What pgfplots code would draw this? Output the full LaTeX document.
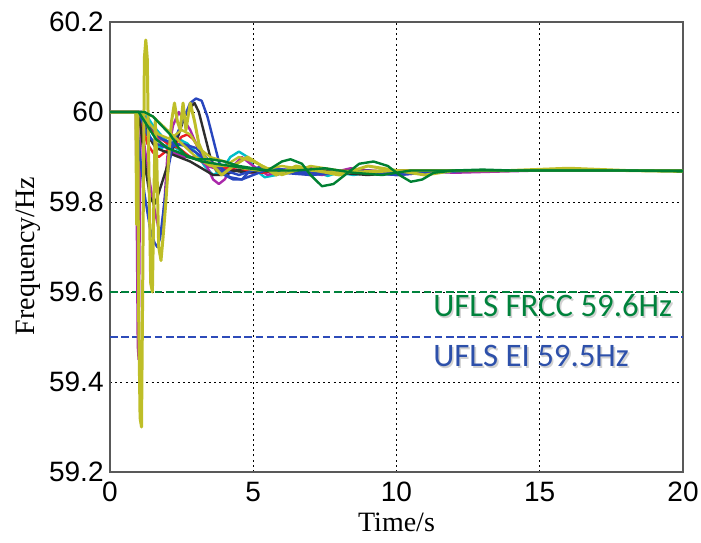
\documentclass[border=0pt]{standalone}
\usepackage{pgfplots}
\pgfplotsset{compat=1.18}
\usepackage{fontspec}
\setmainfont{Liberation Serif}
\setsansfont{Liberation Sans}
\newfontfamily\calib{Carlito}
\usetikzlibrary{calc}

\definecolor{mb}{RGB}{40,70,190}
\definecolor{mg}{RGB}{0,128,50}
\definecolor{mr}{RGB}{235,30,35}
\definecolor{mc}{RGB}{0,190,200}
\definecolor{mm}{RGB}{170,40,170}
\definecolor{my}{RGB}{190,190,40}
\definecolor{mk}{RGB}{45,45,45}
\definecolor{lgreen}{RGB}{0,130,60}
\definecolor{lblue}{RGB}{45,75,185}
\definecolor{tblue}{RGB}{45,80,170}

\begin{document}
\begin{tikzpicture}
\begin{axis}[
    name=ax,
    scale only axis,
    width=286.5pt, height=225pt,
    xmin=0, xmax=20, ymin=59.2, ymax=60.2,
    xtick={0,5,10,15,20},
    ytick={59.2,59.4,59.6,59.8,60,60.2},
    yticklabels={59.2,59.4,59.6,59.8,60,60.2},
    /pgf/number format/assume math mode=true,
    ticklabel style={font=\sffamily\fontsize{14}{16}\selectfont},
    yticklabel style={inner sep=3pt},
    xticklabel style={inner sep=5pt},
    major tick length=0pt,
    axis line style={black!65, line width=0.6pt},
    grid=major,
    major grid style={black, line width=0.4pt, dash pattern=on 1pt off 1.6pt},
    xlabel={Time/s},
    ylabel={Frequency/Hz},
    xlabel style={font=\fontsize{14}{16}\selectfont, at={(rel axis cs:0.5,0)}, anchor=center, yshift=-25pt},
    ylabel style={font=\fontsize{14}{16}\selectfont, at={(rel axis cs:0,0.48)}, anchor=center, yshift=41pt},
    every axis plot/.append style={line width=1.2pt, line join=round},
]
% UFLS thresholds
\addplot[lgreen, line width=1.2pt, dash pattern=on 3.8pt off 1.8pt] coordinates {(0,59.6) (20,59.6)};
\addplot[lblue, line width=1.2pt, dash pattern=on 3.8pt off 1.8pt] coordinates {(0,59.5) (20,59.5)};

% cyan
\addplot[mc] coordinates {(0,60) (1.1,60) (1.3,59.96) (1.5,59.93) (1.8,59.92) (2.1,59.93) (2.4,59.94) (2.7,59.93) (3.0,59.91) (3.3,59.88) (3.6,59.86) (3.9,59.87) (4.2,59.9) (4.5,59.912) (4.8,59.9) (5.1,59.87) (5.4,59.855) (5.8,59.86) (6.3,59.875) (7,59.87) (7.6,59.858) (8.2,59.87) (9,59.865) (10,59.87) (12,59.87) (20,59.87)};
\addplot[mc] coordinates {(0,60) (1.2,60) (1.5,59.97) (1.9,59.94) (2.3,59.92) (2.8,59.9) (3.3,59.89) (3.8,59.88) (4.3,59.87) (4.8,59.875) (5.5,59.87) (6.5,59.865) (7.5,59.87) (8.5,59.86) (9.5,59.87) (11,59.865) (13,59.87) (20,59.87)};
% magenta
\addplot[mm] coordinates {(0,60) (0.9,60) (0.93,59.8) (0.97,59.48) (1.0,59.45) (1.03,59.7) (1.07,59.98) (1.15,59.95) (1.3,59.88) (1.5,59.8) (1.7,59.74) (1.8,59.73) (1.9,59.8) (2.0,59.9) (2.2,59.97) (2.4,60.0) (2.6,59.98) (2.8,59.96) (3.0,59.93) (3.3,59.89) (3.6,59.85) (3.8,59.84) (4.0,59.85) (4.3,59.88) (4.6,59.9) (5.0,59.88) (5.5,59.86) (6,59.87) (7,59.875) (8,59.865) (9,59.87) (10,59.86) (11,59.865) (12,59.87) (14,59.87) (20,59.87)};
\addplot[mm] coordinates {(0,60) (1.1,60) (1.4,59.96) (1.8,59.93) (2.2,59.91) (2.6,59.9) (3.0,59.9) (3.4,59.88) (3.9,59.87) (4.4,59.87) (5,59.865) (5.6,59.875) (6.4,59.87) (7.4,59.86) (8.4,59.875) (9.4,59.865) (10.5,59.87) (12,59.865) (15,59.87) (20,59.87)};
% red
\addplot[mr] coordinates {(0,60) (1.0,60) (1.1,59.98) (1.3,59.93) (1.5,59.91) (1.7,59.9) (1.9,59.91) (2.1,59.92) (2.3,59.93) (2.5,59.945) (2.7,59.95) (2.9,59.94) (3.1,59.92) (3.3,59.9) (3.6,59.88) (3.9,59.875) (4.3,59.87) (4.8,59.87) (5.3,59.865) (6,59.87) (7,59.865) (8,59.87) (9,59.865) (10,59.87) (12,59.87) (20,59.87)};
\addplot[mr] coordinates {(0,60) (1.1,60) (1.3,59.97) (1.6,59.95) (2.0,59.93) (2.4,59.92) (2.8,59.9) (3.2,59.89) (3.6,59.885) (4.1,59.875) (4.6,59.87) (5.2,59.875) (6,59.87) (7,59.86) (8,59.87) (9,59.87) (10.5,59.865) (13,59.87) (20,59.87)};
% black
\addplot[mk] coordinates {(0,60) (1.0,60) (1.1,59.95) (1.25,59.87) (1.4,59.81) (1.55,59.795) (1.65,59.81) (1.8,59.84) (2.0,59.88) (2.2,59.92) (2.4,59.95) (2.6,59.99) (2.8,60.01) (2.95,60.02) (3.1,60.0) (3.3,59.95) (3.5,59.9) (3.7,59.87) (4.0,59.86) (4.4,59.87) (4.8,59.875) (5.3,59.87) (6,59.865) (7,59.87) (8,59.865) (9,59.86) (10,59.865) (12,59.87) (20,59.87)};
\addplot[mk] coordinates {(0,60) (1.1,60) (1.3,59.95) (1.6,59.92) (2.0,59.91) (2.4,59.9) (2.8,59.89) (3.2,59.875) (3.6,59.86) (3.9,59.86) (4.3,59.87) (4.8,59.865) (5.5,59.87) (6.5,59.865) (7.5,59.87) (8.5,59.865) (10,59.87) (20,59.87)};
% blue
\addplot[mb] coordinates {(0,60) (1.0,60) (1.3,59.95) (1.6,59.93) (2.0,59.92) (2.5,59.93) (3,59.92) (3.5,59.89) (4,59.87) (4.5,59.86) (5,59.87) (5.5,59.875) (6,59.865) (7,59.86) (8,59.865) (9,59.87) (10,59.865) (12,59.87) (20,59.87)};
\addplot[mb] coordinates {(0,60) (1.1,60) (1.4,59.97) (1.8,59.94) (2.2,59.93) (2.6,59.925) (3.0,59.91) (3.4,59.89) (3.8,59.87) (4.2,59.855) (4.6,59.85) (5.0,59.86) (5.6,59.875) (6.4,59.87) (7.2,59.865) (8.5,59.87) (10,59.86) (11.5,59.87) (20,59.87)};
\addplot[mb] coordinates {(0,60) (0.9,60) (0.95,59.97) (1.05,59.9) (1.2,59.82) (1.4,59.74) (1.55,59.71) (1.65,59.70) (1.75,59.72) (1.9,59.8) (2.05,59.88) (2.2,59.93) (2.4,59.96) (2.6,59.99) (2.8,60.02) (3.0,60.03) (3.2,60.025) (3.4,59.99) (3.6,59.94) (3.8,59.89) (4.0,59.86) (4.3,59.85) (4.6,59.85) (4.9,59.87) (5.3,59.88) (5.8,59.86) (6.3,59.87) (7,59.86) (8,59.87) (9,59.865) (10,59.86) (11,59.865) (13,59.87) (16,59.87) (20,59.87)};
% yellow
\addplot[my] coordinates {(0,60) (1.1,60) (1.5,59.99) (2.0,59.96) (2.5,59.93) (3.0,59.9) (3.5,59.88) (4,59.88) (4.5,59.9) (5,59.89) (6,59.86) (7,59.88) (8,59.87) (9,59.865) (10,59.87) (12,59.87) (20,59.87)};
\addplot[my] coordinates {(0,60) (1.0,60) (1.3,59.98) (1.7,59.95) (2.1,59.94) (2.5,59.96) (2.8,59.95) (3.1,59.92) (3.5,59.9) (4.0,59.89) (4.6,59.875) (5.2,59.87) (6,59.88) (7,59.87) (8,59.865) (9.5,59.87) (20,59.87)};
\addplot[my, line width=1.5pt] coordinates {(0,60) (0.9,60) (0.93,59.75) (0.97,60.0) (1.0,59.55) (1.05,59.32) (1.1,59.30) (1.14,59.6) (1.2,60.12) (1.25,60.16) (1.3,60.12) (1.35,59.9) (1.42,59.62) (1.48,59.6) (1.53,59.8) (1.58,59.98) (1.63,59.9) (1.7,59.7) (1.78,59.67) (1.85,59.72) (1.95,59.8) (2.05,59.9) (2.15,59.98) (2.25,60.02) (2.35,59.98) (2.45,59.96) (2.55,60.02) (2.65,59.96) (2.8,60.02) (2.95,59.98) (3.1,59.93) (3.3,59.9) (3.6,59.88) (3.9,59.86) (4.3,59.88) (4.8,59.9) (5.3,59.88) (5.8,59.86) (6.5,59.88) (7.2,59.87) (8,59.86) (9,59.88) (10,59.87) (11,59.86) (12,59.87) (14,59.87) (16,59.875) (18,59.87) (20,59.868)};
% green
\addplot[mg] coordinates {(0,60) (1.0,60) (1.3,59.97) (1.6,59.94) (2.0,59.92) (2.4,59.91) (2.8,59.9) (3.2,59.89) (3.7,59.885) (4.2,59.88) (4.8,59.875) (5.5,59.87) (6.5,59.87) (7.5,59.875) (8.5,59.865) (9.5,59.86) (10.5,59.87) (12,59.87) (20,59.87)};
\addplot[mg] coordinates {(0,60) (1.2,60) (1.5,59.99) (1.8,59.97) (2.1,59.95) (2.4,59.92) (2.7,59.9) (3.0,59.895) (3.5,59.895) (4.0,59.89) (4.5,59.88) (5,59.875) (5.5,59.87) (6,59.89) (6.3,59.895) (6.7,59.885) (7,59.86) (7.4,59.835) (7.8,59.84) (8.2,59.86) (8.7,59.885) (9.2,59.89) (9.7,59.88) (10.1,59.86) (10.5,59.845) (10.9,59.85) (11.3,59.865) (12,59.87) (13,59.872) (14,59.87) (16,59.87) (18,59.87) (20,59.868)};

% labels
\node[anchor=west, inner sep=0pt, text=black, opacity=0.18, font=\calib\fontsize{16.4}{18}\selectfont] at ([xshift=0.8pt,yshift=-0.8pt]axis cs:11.27,59.569) {UFLS FRCC 59.6Hz};
\node[anchor=west, inner sep=0pt, text=lgreen, font=\calib\fontsize{16.4}{18}\selectfont] at (axis cs:11.27,59.569) {UFLS FRCC 59.6Hz};
\node[anchor=west, inner sep=0pt, text=black, opacity=0.18, font=\calib\fontsize{16.4}{18}\selectfont] at ([xshift=0.8pt,yshift=-0.8pt]axis cs:11.27,59.458) {UFLS EI 59.5Hz};
\node[anchor=west, inner sep=0pt, text=tblue, font=\calib\fontsize{16.4}{18}\selectfont] at (axis cs:11.27,59.458) {UFLS EI 59.5Hz};
\end{axis}
\pgfresetboundingbox
\path ($(ax.south west)+(-55pt,-35pt)$) rectangle ($(ax.north east)+(9pt,11pt)$);
\end{tikzpicture}
\end{document}
